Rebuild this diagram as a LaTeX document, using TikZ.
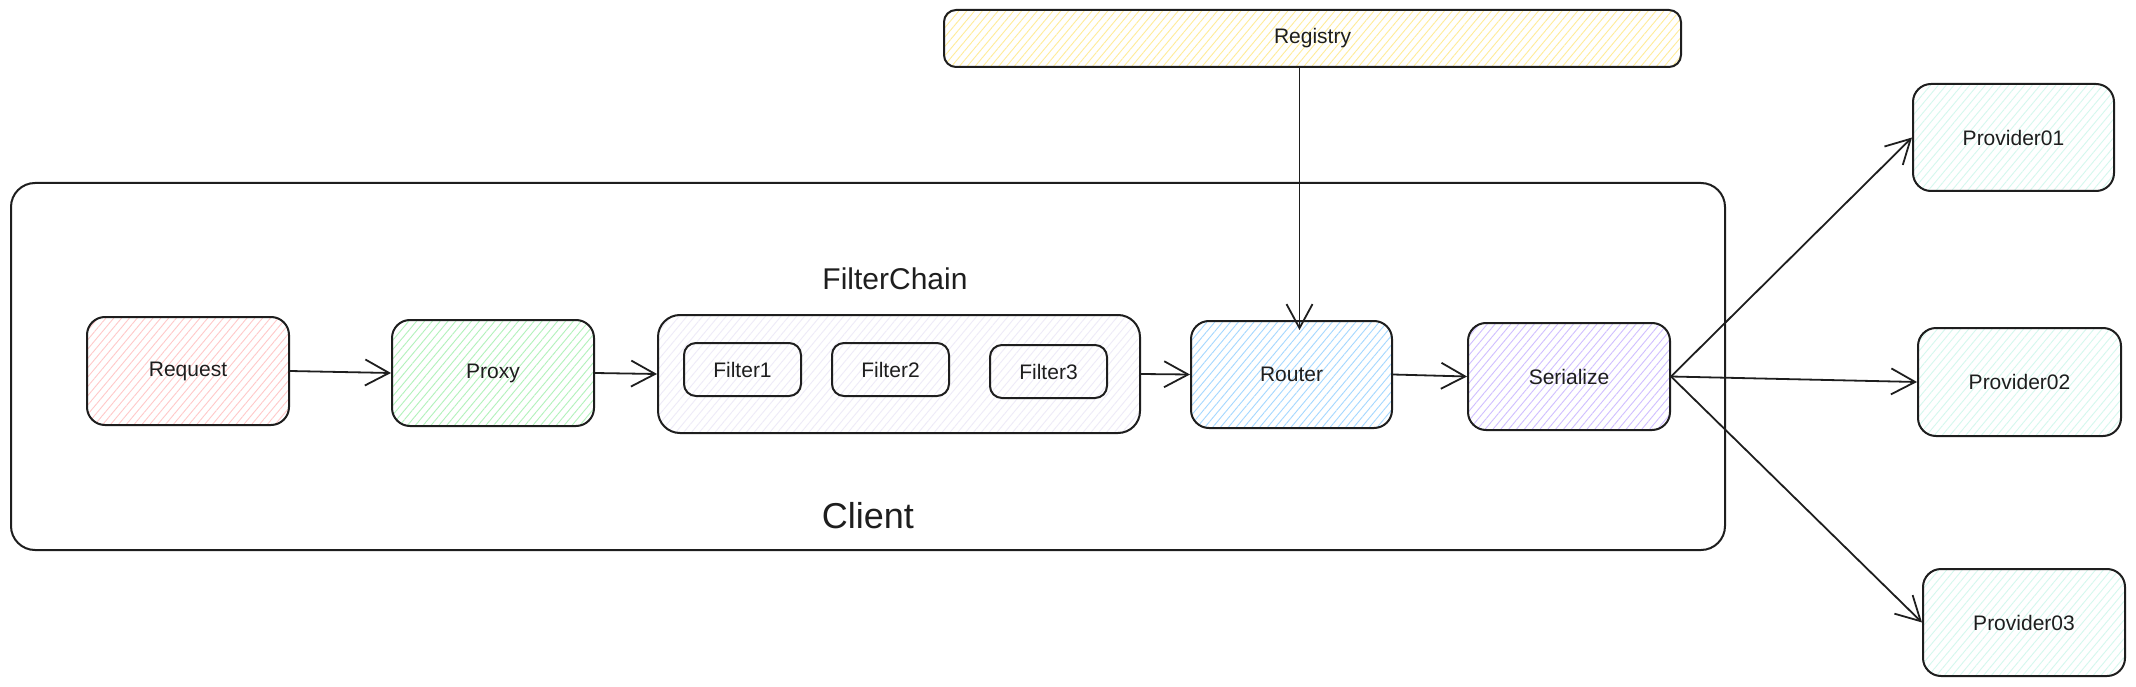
\documentclass[tikz,border=0pt]{standalone}
\usepackage{fontspec}
\setmainfont{Liberation Sans}
\usetikzlibrary{arrows.meta,patterns.meta}
\definecolor{ink}{HTML}{1E1E1E}
\definecolor{cred}{HTML}{FFC9C9}
\definecolor{cgreen}{HTML}{B2F2BB}
\definecolor{cblue}{HTML}{A5D8FF}
\definecolor{cviolet}{HTML}{D0BFFF}
\definecolor{cyellow}{HTML}{FFEC99}
\definecolor{cteal}{HTML}{D5F8EE}
\definecolor{clav}{HTML}{EEEBF8}
\tikzset{
  box/.style={draw=ink, line width=2pt, rounded corners=18pt, align=center,
    text=ink, font=\fontsize{21}{25}\selectfont, inner sep=0pt},
  hatch/.style={preaction={fill=white}, pattern={Lines[angle=50,distance=6pt,line width=0.9pt]}, pattern color=#1},
  conn/.style={draw=ink, line width=1.8pt, -{Straight Barb[length=24pt,width=26pt,line width=1.8pt]}},
  biglabel/.style={text=ink, inner sep=0pt}
}
\begin{document}
\begin{tikzpicture}[x=1pt,y=-1pt]
\useasboundingbox (0,0) rectangle (2136,687);
% client container
\node[box, rounded corners=24pt, minimum width=1714pt, minimum height=367pt] (client) at (868,366.5) {};
\node[biglabel, font=\fontsize{36}{40}\selectfont] (clientlbl) at (868,516) {Client};
\node[biglabel, font=\fontsize{30}{34}\selectfont] (fclbl) at (895,279) {FilterChain};
% registry
\node[box, hatch=cyellow, rounded corners=12pt, minimum width=737pt, minimum height=57pt] (registry) at (1312.5,38.5) {Registry};
% main chain
\node[box, hatch=cred, minimum width=202pt, minimum height=108pt] (request) at (188,371) {Request};
\node[box, hatch=cgreen, minimum width=202pt, minimum height=106pt] (proxy) at (493,373) {Proxy};
\node[box, hatch=clav, rounded corners=22pt, minimum width=482pt, minimum height=118pt] (fchain) at (899,374) {};
\node[box, hatch=clav, rounded corners=12pt, minimum width=117pt, minimum height=53pt] (f1) at (742.5,369.5) {Filter1};
\node[box, hatch=clav, rounded corners=12pt, minimum width=117pt, minimum height=53pt] (f2) at (890.5,369.5) {Filter2};
\node[box, hatch=clav, rounded corners=12pt, minimum width=117pt, minimum height=53pt] (f3) at (1048.5,371.5) {Filter3};
\node[box, hatch=cblue, minimum width=201pt, minimum height=107pt] (router) at (1291.5,374.5) {Router};
\node[box, hatch=cviolet, minimum width=202pt, minimum height=107pt] (serialize) at (1569,376.5) {Serialize};
% providers
\node[box, hatch=cteal, minimum width=201pt, minimum height=107pt] (p1) at (2013.5,137.5) {Provider01};
\node[box, hatch=cteal, minimum width=203pt, minimum height=108pt] (p2) at (2019.5,382) {Provider02};
\node[box, hatch=cteal, minimum width=202pt, minimum height=107pt] (p3) at (2024,622.5) {Provider03};
% connectors
\draw[conn] (request.east) -- (proxy.west);
\draw[conn] (proxy.east) -- (fchain.west);
\draw[conn] (fchain.east) -- (router.west);
\draw[conn] (router.east) -- (serialize.west);
\draw[conn] ([xshift=8pt]registry.south -| router.north) -- ([xshift=8pt,yshift=-10pt]router.north);
\draw[conn] (serialize.east) -- (p1.west);
\draw[conn] (serialize.east) -- (p2.west);
\draw[conn] (serialize.east) -- (p3.west);
\end{tikzpicture}
\end{document}
